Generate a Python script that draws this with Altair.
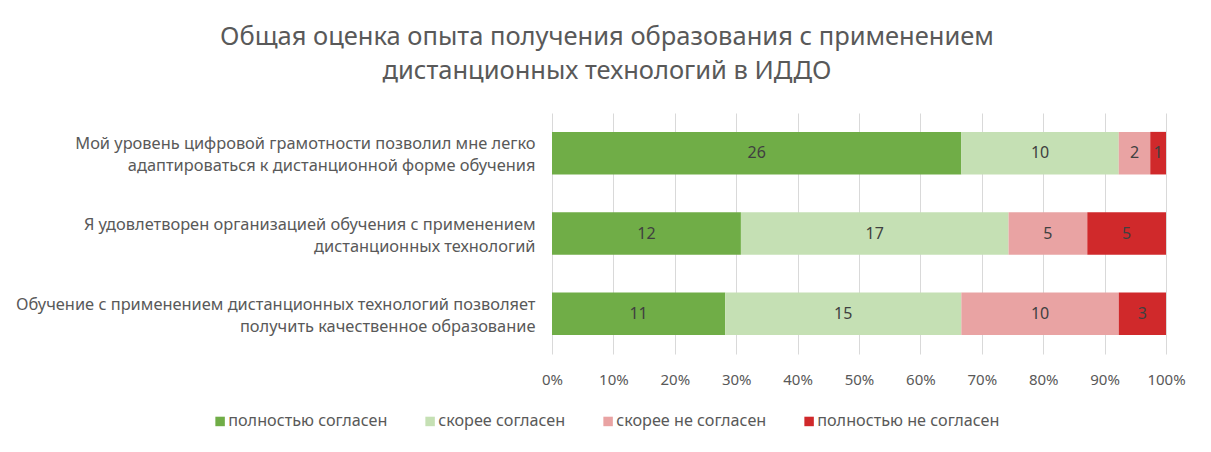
import altair as alt
import pandas as pd

questions = [
    "Мой уровень цифровой грамотности позволил мне легко|адаптироваться к дистанционной форме обучения",
    "Я удовлетворен организацией обучения с применением|дистанционных технологий",
    "Обучение с применением дистанционных технологий позволяет|получить качественное образование",
]
series = ["полностью согласен", "скорее согласен", "скорее не согласен", "полностью не согласен"]
colors = ["#70AD47", "#C5E0B4", "#E9A3A3", "#D0292B"]
v_full_agree = [26, 12, 11]
v_agree = [10, 17, 15]
v_disagree = [2, 5, 10]
v_full_disagree = [1, 5, 3]

rows = []
for si, vals in enumerate([v_full_agree, v_agree, v_disagree, v_full_disagree]):
    for qi, q in enumerate(questions):
        rows.append({"q": q, "qi": qi, "s": series[si], "si": si, "v": vals[qi]})
df = pd.DataFrame(rows)

FONT = "Noto Sans"
GRAY = "#595959"

base = alt.Chart(df).transform_stack(
    stack="v", groupby=["q"], as_=["x0", "x1"], offset="normalize",
    sort=[alt.SortField("si", order="ascending")]
).transform_calculate(mid="(datum.x0 + datum.x1) / 2")

yenc = alt.Y("q:N", sort=questions, title=None,
             scale=alt.Scale(paddingInner=0.47, paddingOuter=0.235),
             axis=alt.Axis(labelExpr="split(datum.label, '|')", labelFontSize=16.4,
                           labelColor=GRAY, labelFont=FONT, labelLineHeight=22,
                           labelOffset=-9,
                           labelPadding=17, ticks=False, domain=False, labelLimit=600))

bars = base.mark_bar().encode(
    y=yenc,
    x=alt.X("x0:Q", title=None, scale=alt.Scale(domain=[0, 1], nice=False),
            axis=alt.Axis(format="%", values=[i / 10 for i in range(11)], grid=True,
                          gridColor="#D9D9D9", domain=False, ticks=False,
                          labelFontSize=15, labelColor=GRAY, labelFont=FONT,
                          labelPadding=18, labelFlush=False)),
    x2="x1:Q",
    color=alt.Color("s:N", sort=series, scale=alt.Scale(domain=series, range=colors),
                    legend=alt.Legend(title=None, orient="none", legendX=-340, legendY=300,
                                      direction="horizontal", columns=4, symbolType="square",
                                      symbolSize=90, symbolStrokeWidth=0,
                                      labelFontSize=16.2, labelColor=GRAY, labelFont=FONT,
                                      labelLimit=300, columnPadding=34, labelOffset=0)),
    order=alt.Order("si:Q"),
)

labels = base.mark_text(fontSize=16, color="#404040", font=FONT).encode(
    y=alt.Y("q:N", sort=questions),
    x=alt.X("mid:Q"),
    text=alt.Text("v:Q"),
)

chart = alt.layer(bars, labels).properties(
    width=614, height=241,
    padding={"left": 544, "top": 105, "right": 37, "bottom": 98},
    autosize=alt.AutoSizeParams(type="none"),
    title=alt.TitleParams(
        ["Общая оценка опыта получения  образования с применением",
         "дистанционных технологий в ИДДО"],
        fontSize=25.5, font=FONT, color=GRAY, fontWeight="normal",
        lineHeight=34, dx=-252, offset=29, anchor="middle"),
).configure_view(stroke=None)

chart.save("out.html", embed_options={"renderer": "svg", "actions": False})
